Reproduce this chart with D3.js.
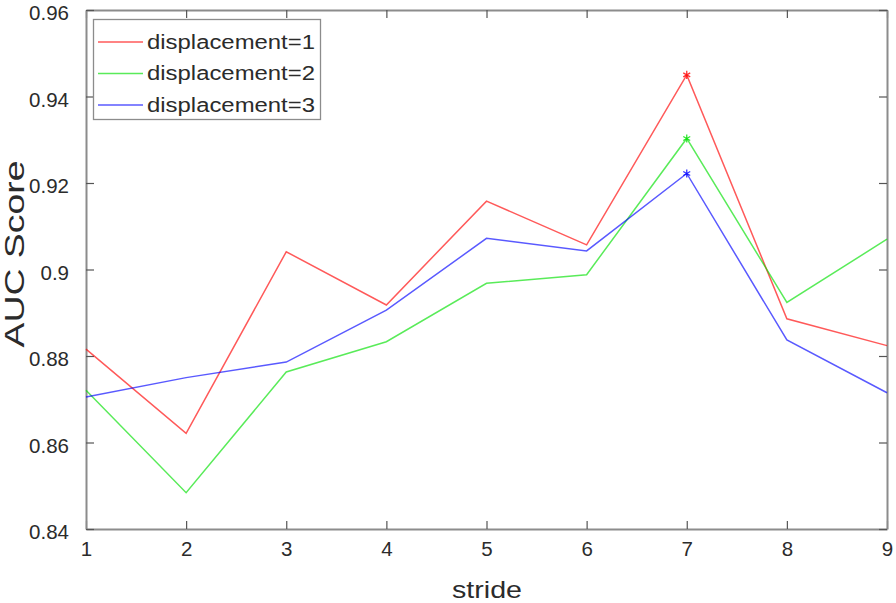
<!DOCTYPE html>
<html><head><meta charset="utf-8">
<script src="https://cdn.jsdelivr.net/npm/d3@7"></script>
<style>body{margin:0;background:#fff}svg{display:block}text{font-family:"Liberation Sans",Arial,sans-serif}</style>
</head><body>
<svg id="c" width="896" height="603"></svg>
<script>
const strides = [1,2,3,4,5,6,7,8,9];
const disp1 = [0.8816,0.8621,0.9041,0.8918,0.9158,0.9057,0.9450,0.8886,0.8824];
const disp2 = [0.8721,0.8484,0.8763,0.8833,0.8968,0.8988,0.9303,0.8924,0.9070];
const disp3 = [0.8705,0.8750,0.8786,0.8906,0.9072,0.9043,0.9222,0.8837,0.8715];
const seriesNames = ["displacement=1","displacement=2","displacement=3"];
const seriesColors = ["#ff0000","#00e000","#0000ff"];
const yTicks = [0.84,0.86,0.88,0.9,0.92,0.94,0.96];
const yTickLabels = ["0.84","0.86","0.88","0.9","0.92","0.94","0.96"];
const markIdx = 6;

const svg = d3.select("#c");
const L=86,R=887,T=10,B=529;
const x = d3.scaleLinear().domain([1,9]).range([L,R]);
const y = d3.scaleLinear().domain([0.84,0.96]).range([B,T]);
const axisCol="#8c8c8c", txtCol="#2b2b2b";

// axes
const gx = svg.append("g").attr("transform",`translate(0,${B})`)
  .call(d3.axisBottom(x).tickValues(strides).tickFormat(d3.format("d")).tickSizeInner(-8).tickSizeOuter(0).tickPadding(15));
const gxt = svg.append("g").attr("transform",`translate(0,${T})`)
  .call(d3.axisTop(x).tickValues(strides).tickFormat("").tickSizeInner(-8).tickSizeOuter(0));
const gy = svg.append("g").attr("transform",`translate(${L},0)`)
  .call(d3.axisLeft(y).tickValues(yTicks).tickFormat((d,i)=>yTickLabels[i]).tickSizeInner(-8).tickSizeOuter(0).tickPadding(17));
const gyr = svg.append("g").attr("transform",`translate(${R},0)`)
  .call(d3.axisRight(y).tickValues(yTicks).tickFormat("").tickSizeInner(-8).tickSizeOuter(0));
[gx,gxt,gy,gyr].forEach(g=>{
  g.selectAll(".domain").attr("stroke",axisCol).attr("stroke-width",2);
  g.selectAll(".tick line").attr("stroke","#555").attr("stroke-width",1.2);
  g.selectAll("text").attr("fill",txtCol).attr("font-size",20.5);
});
gx.selectAll("text").attr("dy","0.6em");
gy.selectAll("text").attr("dy","0.47em");

// lines
const line = d3.line().x((d,i)=>x(strides[i])).y(d=>y(d));
[disp1,disp2,disp3].forEach((s,k)=>{
  svg.append("path").datum(s).attr("d",line).attr("fill","none")
    .attr("stroke",seriesColors[k]).attr("stroke-width",1.5).attr("stroke-opacity",0.65);
  const cx=x(strides[markIdx]), cy=y(s[markIdx]);
  const sym = d3.symbol().type(d3.symbolAsterisk).size(45);
  svg.append("path").attr("d",sym()).attr("transform",`translate(${cx},${cy})`)
    .attr("fill","none").attr("stroke",seriesColors[k]).attr("stroke-width",1.3).attr("stroke-opacity",0.8);
});

// axis labels
svg.append("text").attr("x",487).attr("y",598).attr("text-anchor","middle")
  .attr("font-size",24).attr("fill",txtCol).attr("textLength",70).attr("lengthAdjust","spacingAndGlyphs").text("stride");
svg.append("text").attr("transform","translate(24,254) rotate(-90)").attr("text-anchor","middle")
  .attr("font-size",27).attr("fill",txtCol).attr("textLength",187).attr("lengthAdjust","spacingAndGlyphs").text("AUC Score");

// legend
const lg = svg.append("g");
lg.append("rect").attr("x",93.5).attr("y",19.5).attr("width",227).attr("height",100)
  .attr("fill","#fff").attr("stroke","#8c8c8c").attr("stroke-width",1.3);
seriesNames.forEach((n,k)=>{
  const yy = 42 + k*31.5;
  lg.append("line").attr("x1",98).attr("x2",143).attr("y1",yy).attr("y2",yy)
    .attr("stroke",seriesColors[k]).attr("stroke-width",1.5).attr("stroke-opacity",0.65);
  lg.append("text").attr("x",147).attr("y",yy+6.5).attr("font-size",20).attr("fill",txtCol)
    .attr("textLength",168).attr("lengthAdjust","spacingAndGlyphs").text(n);
});
</script>
</body></html>
